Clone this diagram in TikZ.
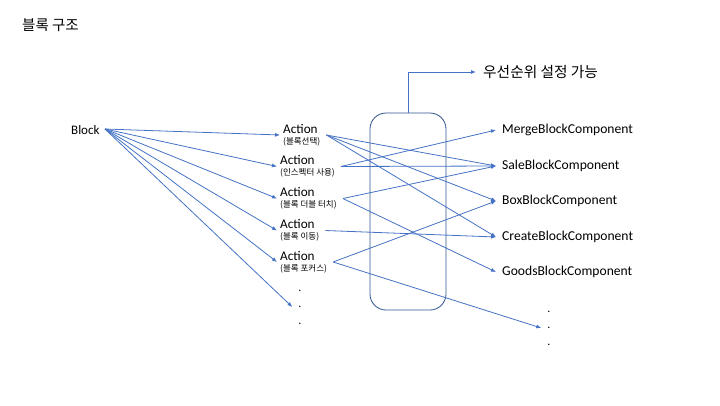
\documentclass[tikz,border=0pt]{standalone}
\usepackage{fontspec}
\setmainfont{Carlito}
\newfontfamily\kr{Noto Sans CJK KR}
\newcommand\subtxt{\kr\fontsize{8.5}{8.5}\selectfont}
\newcommand\acttxt{\fontsize{13.2}{13}\selectfont}
\usetikzlibrary{arrows.meta}
\definecolor{lineblue}{HTML}{4472C4}
\definecolor{boxblue}{HTML}{2F528F}
\tikzset{
  conn/.style={draw=lineblue, line width=0.8pt, -{Latex[length=5pt,width=4pt]}},
  lbl/.style={inner sep=0pt, font=\fontsize{13}{15}\selectfont},
  act/.style={inner xsep=3pt, inner ysep=0pt, align=left, anchor=west},
  comp/.style={inner xsep=6pt, inner ysep=0pt, anchor=west, font=\fontsize{13.6}{15}\selectfont},
  dots/.style={inner xsep=6pt, inner ysep=0pt, align=center, font=\fontsize{12}{16.5}\selectfont},
}
\begin{document}
\begin{tikzpicture}[x=1pt,y=-1pt]
\useasboundingbox (0,0) rectangle (720,405);
% title
\node[lbl, anchor=west, font=\kr\fontsize{14.5}{16}\selectfont] (title) at (22,25) {블록 구조};
% Block
\node[lbl, anchor=west, inner xsep=0pt] (block) at (71,130) {Block};
\coordinate (bo) at (105,129);
% Actions
\node[act] (a1) at (280,135) {\acttxt Action\\[-1pt]{\subtxt (블록선택)}};
\node[act] (a2) at (277,166.5) {\acttxt Action\\[-1pt]{\subtxt (인스펙터 사용)}};
\node[act] (a3) at (277,198.5) {\acttxt Action\\[-1pt]{\subtxt (블록 더블 터치)}};
\node[act] (a4) at (277,230.5) {\acttxt Action\\[-1pt]{\subtxt (블록 이동)}};
\node[act] (a5) at (277,262) {\acttxt Action\\[-1pt]{\subtxt (블록 포커스)}};
\node[dots] (ld) at (300,307) {.\\.\\.};
% box
\node[draw=boxblue, line width=0.8pt, rounded corners=16pt, minimum width=76pt, minimum height=197pt] (box) at (408,211.5) {};
\node[lbl, anchor=west, font=\kr\fontsize{14.7}{16}\selectfont, inner xsep=7pt] (prio) at (476,72) {우선순위 설정 가능};
% components
\node[comp] (c1) at (496,130) {MergeBlockComponent};
\node[comp] (c2) at (496,166) {SaleBlockComponent};
\node[comp] (c3) at (496,201) {BoxBlockComponent};
\node[comp] (c4) at (496,237) {CreateBlockComponent};
\node[comp] (c5) at (496,272) {GoodsBlockComponent};
\node[dots] (rd) at (549,328) {.\\.\\.};
% connectors from Block
\foreach \t in {a1,a2,a3,a4,a5,ld} \draw[conn] (bo) -- (\t.west);
% action -> component
\draw[conn] ([xshift=3pt]a1.east) -- (c2.west);
\draw[conn] ([xshift=3pt]a1.east) -- (c3.west);
\draw[conn] ([xshift=3pt]a1.east) -- (c4.west);
\draw[conn] ([xshift=3pt]a2.east) -- (c1.west);
\draw[conn] ([xshift=3pt]a2.east) -- (c2.west);
\draw[conn] ([xshift=3pt]a3.east) -- (c2.west);
\draw[conn] ([xshift=3pt]a3.east) -- (c5.west);
\draw[conn] ([xshift=3pt]a4.east) -- (c4.west);
\draw[conn] ([xshift=3pt]a5.east) -- (c3.west);
\draw[conn] ([xshift=3pt]a5.east) -- (rd.west);
% priority
\draw[conn] (box.north) |- (prio.west);
\end{tikzpicture}
\end{document}
